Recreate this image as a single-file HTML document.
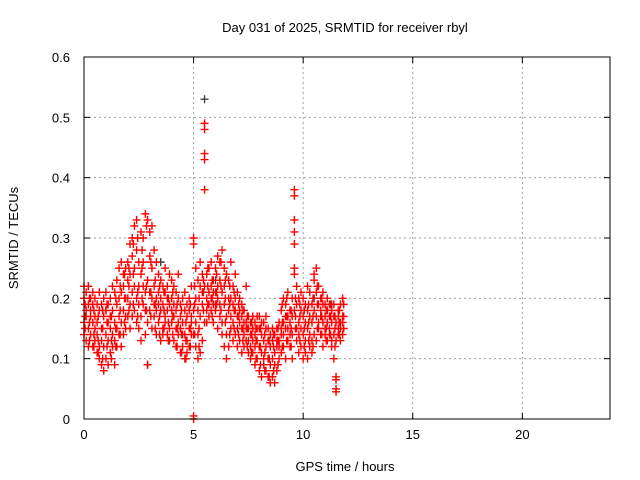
<!DOCTYPE html>
<html><head><meta charset="utf-8"><style>
body{margin:0;background:#fff;}
svg{display:block;font-family:"Liberation Sans",sans-serif;}
</style></head><body>
<svg id="chart" width="640" height="480">
<rect width="640" height="480" fill="#fff"/>
<text x="345" y="32" text-anchor="middle" font-size="13">Day 031 of 2025, SRMTID for receiver rbyl</text>
<g id="grid"></g>
<g id="ticks"></g>
<g id="marks"></g>
<rect x="84" y="57" width="526" height="362" fill="none" stroke="#000"/>
<text x="345" y="471" text-anchor="middle" font-size="13">GPS time / hours</text>
<text transform="translate(18,238) rotate(-90)" text-anchor="middle" font-size="13">SRMTID / TECUs</text>
</svg>
<script>
const xTicks=[0,5,10,15,20];
const yTicks=[0,0.1,0.2,0.3,0.4,0.5,0.6];
const yTickLabels=["0","0.1","0.2","0.3","0.4","0.5","0.6"];
const times=[0.0,0.1,0.2,0.3,0.4,0.5,0.6,0.7,0.8,0.9,1.0,1.1,1.2,1.3,1.4,1.5,1.6,1.7,1.8,1.9,2.0,2.1,2.2,2.3,2.4,2.5,2.6,2.7,2.8,2.9,3.0,3.1,3.2,3.3,3.4,3.5,3.6,3.7,3.8,3.9,4.0,4.1,4.2,4.3,4.4,4.5,4.6,4.7,4.8,4.9,5.0,5.1,5.2,5.3,5.4,5.5,5.6,5.7,5.8,5.9,6.0,6.1,6.2,6.3,6.4,6.5,6.6,6.7,6.8,6.9,7.0,7.1,7.2,7.3,7.4,7.5,7.6,7.7,7.8,7.9,8.0,8.1,8.2,8.3,8.4,8.5,8.6,8.7,8.8,8.9,9.0,9.1,9.2,9.3,9.4,9.5,9.6,9.7,9.8,9.9,10.0,10.1,10.2,10.3,10.4,10.5,10.6,10.7,10.8,10.9,11.0,11.1,11.2,11.3,11.4,11.5,11.6,11.7,11.8];
const values=[
[.16,.20,.22,.14],[.18,.13,.21,.17],[.15,.19,.12,.22],[.17,.14,.20,.18],[.16,.12,.19,.21],
[.13,.17,.20,.15],[.11,.16,.19,.14],[.12,.18,.21,.10],[.09,.15,.19,.13],[.12,.17,.20,.08],
[.10,.14,.18,.21],[.13,.16,.19,.09],[.11,.15,.20,.17],[.14,.18,.22,.12],[.09,.16,.21,.13],
[.12,.19,.23,.15],[.14,.20,.25,.17],[.16,.21,.26,.12],[.18,.22,.24,.14],[.15,.20,.25,.17],
[.17,.23,.26,.20],[.19,.24,.29,.15],[.21,.27,.30,.17],[.18,.25,.32,.22],[.20,.28,.33,.16],
[.15,.22,.26,.19],[.17,.24,.31,.13],[.19,.26,.30,.22],[.14,.21,.34,.18],[.16,.23,.33,.09],
[.18,.27,.31,.21],[.20,.25,.32,.15],[.17,.22,.28,.19],[.14,.20,.26,.18],[.16,.21,.24,.19],
[.13,.18,.23,.20],[.15,.19,.22,.14],[.17,.21,.25,.16],[.14,.18,.22,.20],[.15,.19,.24,.13],
[.16,.20,.23,.18],[.13,.17,.22,.19],[.12,.18,.21,.15],[.14,.16,.20,.24],[.11,.15,.19,.17],
[.12,.16,.20,.14],[.10,.14,.18,.21],[.13,.17,.19,.11],[.12,.15,.20,.18],[.14,.17,.22,.16],
[.00,.005,.30,.29,.18,.14],[.12,.16,.20,.25],[.10,.18,.23,.14],[.11,.17,.22,.26],[.13,.19,.24,.21],
[.49,.48,.44,.43,.38,.22,.16],[.16,.20,.24,.18],[.17,.21,.25,.19],[.18,.22,.26,.20],[.16,.19,.23,.21],
[.18,.21,.25,.19],[.15,.20,.27,.22],[.17,.23,.26,.19],[.14,.21,.28,.16],[.12,.19,.25,.22],
[.10,.17,.24,.14],[.12,.18,.23,.20],[.15,.20,.26,.17],[.13,.19,.22,.16],[.14,.18,.24,.20],
[.12,.17,.21,.15],[.13,.16,.20,.18],[.11,.15,.19,.17],[.12,.14,.18,.16],[.13,.16,.22,.15],
[.11,.15,.17,.13],[.10,.14,.16,.12],[.11,.13,.17,.15],[.09,.12,.16,.14],[.10,.13,.17,.15],
[.08,.12,.15,.17],[.07,.11,.14,.16],[.09,.13,.16,.10],[.08,.12,.15,.17],[.07,.10,.13,.15],
[.06,.09,.12,.14],[.07,.10,.13,.15],[.06,.11,.14,.09],[.08,.12,.15,.13],[.10,.13,.16,.12],
[.11,.15,.18,.14],[.12,.16,.20,.14],[.10,.15,.19,.17],[.13,.17,.21,.15],[.12,.16,.18,.14],
[.10,.14,.17,.20],[.38,.37,.33,.31,.29,.25,.24,.18],[.15,.22,.19,.13],[.11,.16,.20,.14],[.12,.15,.18,.21],
[.10,.14,.17,.20],[.13,.16,.19,.11],[.10,.15,.18,.22],[.12,.14,.17,.21],[.11,.16,.19,.13],
[.14,.18,.23,.24],[.13,.17,.21,.25],[.15,.19,.22,.16],[.14,.18,.20,.17],[.12,.16,.19,.21],
[.14,.17,.19,.15],[.13,.16,.18,.20],[.15,.17,.19,.14],[.13,.16,.18,.12],[.10,.14,.17,.19],
[.07,.045,.065,.05,.13,.16],[.14,.17,.18,.15],[.13,.16,.19,.15],[.14,.17,.20,.16]
];
const times2=[0.05,0.25,0.45,0.65,0.85,1.05,1.25,1.45,1.65,1.85,2.05,2.25,2.45,2.65,2.85,3.05,3.25,3.45,3.65,3.85,4.05,4.25,4.45,4.65,4.85,5.05,5.25,5.45,5.65,5.85,6.05,6.25,6.45,6.65,6.85,7.05,7.25,7.45,7.65,7.85,8.05,8.25,8.45,8.65,8.85,9.05,9.25,9.45,9.65,9.85,10.05,10.25,10.45,10.65,10.85,11.05,11.25,11.45,11.65,11.85];
const values2=[
[.15,.19,.17],[.16,.20,.13],[.14,.18,.12],[.13,.17,.11],[.10,.15,.18],
[.12,.16,.19],[.13,.17,.10],[.15,.20,.12],[.18,.22,.14],[.20,.24,.16],
[.22,.25,.18],[.24,.29,.19],[.21,.30,.17],[.25,.28,.20],[.22,.32,.18],
[.21,.26,.17],[.19,.23,.15],[.17,.22,.14],[.18,.21,.15],[.16,.20,.13],
[.17,.21,.14],[.15,.19,.12],[.14,.18,.11],[.13,.16,.10],[.15,.19,.12],
[.14,.19,.22],[.15,.20,.12],[.18,.23,.21],[.19,.22,.25],[.17,.20,.23],
[.19,.24,.21],[.18,.22,.26],[.16,.20,.23],[.14,.19,.22],[.15,.18,.21],
[.14,.17,.19],[.13,.15,.18],[.12,.15,.17],[.11,.14,.16],[.10,.13,.15],
[.09,.12,.15],[.08,.11,.14],[.07,.10,.13],[.08,.12,.14],[.09,.13,.15],
[.12,.16,.19],[.13,.17,.20],[.12,.15,.18],[.15,.20,.17],[.13,.17,.19],
[.12,.15,.18],[.13,.16,.19],[.12,.17,.20],[.15,.19,.22],[.14,.17,.20],
[.15,.18,.13],[.14,.17,.19],[.12,.15,.17],[.14,.16,.18],[.15,.17,.19]
];
const grayTimes=[0.2,1.0,2.9,3.5,5.5,6.0,8.6,10.5,11.3];
const grayValues=[0.22,0.18,0.09,0.26,0.53,0.23,0.07,0.20,0.19];

const NS="http://www.w3.org/2000/svg";
const X0=84,X1=610,Y0=419,Y1=57;
function xs(v){return X0+(v/24)*(X1-X0);}
function ys(v){return Y0-(v/0.6)*(Y0-Y1);}
const grid=document.getElementById('grid'),ticks=document.getElementById('ticks'),marks=document.getElementById('marks');
function mk(tag,attrs,parent){const e=document.createElementNS(NS,tag);for(const k in attrs)e.setAttribute(k,attrs[k]);parent.appendChild(e);return e;}
xTicks.forEach(t=>{
  const x=xs(t);
  if(t>0){const g=mk('line',{x1:x,x2:x,y1:Y0,y2:Y1,stroke:'#a0a0a0','stroke-dasharray':'2,3'},grid);
  
  }
  mk('line',{x1:x,x2:x,y1:Y0,y2:Y0-6,stroke:'#000'},ticks);
  mk('line',{x1:x,x2:x,y1:Y1,y2:Y1+6,stroke:'#000'},ticks);
  const l=mk('text',{x:x,y:Y0+20,'text-anchor':'middle','font-size':'13'},ticks);
  l.textContent=t;
  
  
});
yTicks.forEach((t,i)=>{
  const y=ys(t);
  if(t>0&&t<0.6){const g=mk('line',{x1:X0,x2:X1,y1:y,y2:y,stroke:'#a0a0a0','stroke-dasharray':'2,3'},grid);
  
  }
  mk('line',{x1:X0,x2:X0+6,y1:y,y2:y,stroke:'#000'},ticks);
  mk('line',{x1:X1,x2:X1-6,y1:y,y2:y,stroke:'#000'},ticks);
  const l=mk('text',{x:X0-14,y:y+5,'text-anchor':'end','font-size':'13'},ticks);
  l.textContent=yTickLabels[i];
  
  
});
function plus(t,v,color){
  const x=xs(t),y=ys(v);
  const p=mk('path',{d:`M${x-4},${y}h8M${x},${y-4}v8`,stroke:color,'stroke-width':1.4,fill:'none'},marks);
  
  
}
grayTimes.forEach((t,i)=>plus(t,grayValues[i],'#404040'));
times.forEach((t,i)=>values[i].forEach(v=>plus(t,v,'#ff0000')));
times2.forEach((t,i)=>values2[i].forEach(v=>plus(t,v,'#ff0000')));
</script>
</body></html>
